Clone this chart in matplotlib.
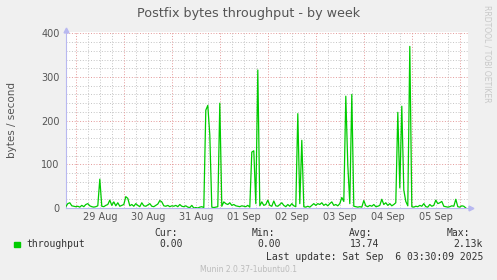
import pandas as pd
import matplotlib
matplotlib.use("Agg")
import matplotlib.pyplot as plt

# hourly samples, bytes / second
START = "2025-08-28 19:00"
aug28 = [3, 10, 12, 5, 4]
aug29 = [3, 4, 2, 6, 3, 8, 10, 5, 3, 2, 3, 5, 66, 4, 3, 6, 8, 18, 6, 14, 5, 12, 4, 6]
aug30 = [8, 26, 22, 5, 8, 4, 10, 6, 3, 12, 5, 4, 7, 10, 4, 3, 6, 9, 17, 14, 5, 4, 6, 3]
aug31 = [5, 4, 6, 3, 8, 4, 3, 5, 2, 1, 6, 0, 1, 0, 2, 3, 1, 224, 235, 167, 2, 1, 2, 3]
sep01 = [240, 4, 14, 10, 8, 12, 6, 8, 5, 4, 3, 5, 4, 3, 6, 2, 128, 131, 10, 316, 5, 14, 6, 8]
sep02 = [18, 6, 4, 16, 5, 4, 8, 12, 6, 3, 8, 4, 10, 5, 3, 216, 10, 155, 3, 2, 4, 2, 6, 10]
sep03 = [6, 10, 8, 12, 6, 9, 5, 10, 14, 6, 8, 5, 10, 24, 15, 256, 98, 10, 260, 4, 3, 2, 3, 2]
sep04 = [17, 5, 3, 6, 4, 8, 3, 4, 6, 20, 8, 12, 6, 10, 5, 8, 12, 219, 46, 233, 41, 15, 5, 370]
sep05 = [3, 2, 4, 3, 6, 4, 10, 3, 2, 8, 4, 6, 18, 10, 12, 15, 4, 3, 2, 3, 5, 4, 20, 3]
sep06 = [2, 5, 4, 0]
values = aug28 + aug29 + aug30 + aug31 + sep01 + sep02 + sep03 + sep04 + sep05 + sep06

day_labels = ["29 Aug", "30 Aug", "31 Aug", "01 Sep", "02 Sep", "03 Sep", "04 Sep", "05 Sep"]
stat_names = ["Cur:", "Min:", "Avg:", "Max:"]
stat_values = ["0.00", "0.00", "13.74", "2.13k"]
series_name = "throughput"
last_update = "Last update: Sat Sep  6 03:30:09 2025"

times = pd.date_range(START, periods=len(values), freq="h")
noons = pd.date_range("2025-08-29 12:00", periods=len(day_labels), freq="D")
x_left = pd.Timestamp("2025-08-28 19:06")
x_right = pd.Timestamp("2025-09-06 04:06")

W, H = 497, 280
BG = "#f0f0f0"
GREEN = "#00cc00"
AXIS = "#b8b8f0"

fig = plt.figure(figsize=(W / 100, H / 100), dpi=100, facecolor=BG)
ax = fig.add_axes([66 / W, 1 - 208 / H, 402 / W, 176 / H])
ax.set_facecolor("white")

ax.set_xlim(x_left, x_right)
ax.set_ylim(0, 403)

# grid: minor gray, major red
for t in pd.date_range("2025-08-29 00:00", x_right, freq="6h"):
    if t.hour != 0:
        ax.axvline(t, color="#c4c4c4", lw=0.7, ls=(0, (1, 1.8)), zorder=1)
for v in range(20, 401, 20):
    if v % 100:
        ax.axhline(v, color="#c4c4c4", lw=0.7, ls=(0, (1, 1.8)), zorder=1)
for t in pd.date_range("2025-08-29 00:00", x_right, freq="D"):
    ax.axvline(t, color="#e49a9a", lw=0.7, ls=(0, (1, 1.8)), zorder=2)
for v in range(100, 401, 100):
    ax.axhline(v, color="#e49a9a", lw=0.7, ls=(0, (1, 1.8)), zorder=2)

ax.plot(times, values, color=GREEN, lw=0.9, zorder=3)

# axes frame like rrdtool
for s in ["top", "right"]:
    ax.spines[s].set_visible(False)
for s in ["left", "bottom"]:
    ax.spines[s].set_color(AXIS)
    ax.spines[s].set_linewidth(0.8)
ax.plot([0], [1.012], marker="^", ms=3.5, color=AXIS, transform=ax.transAxes, clip_on=False)
ax.plot([1.008], [0], marker=">", ms=3.5, color=AXIS, transform=ax.transAxes, clip_on=False)

ax.set_yticks([0, 100, 200, 300, 400])
ax.set_xticks(noons)
ax.set_xticklabels(day_labels)
ax.tick_params(axis="both", length=0, labelsize=7, labelcolor="#555555")
ax.tick_params(axis="y", pad=4.5)
ax.tick_params(axis="x", pad=3)

fig.text(248.5 / W, 1 - 13 / H, "Postfix bytes throughput - by week",
         ha="center", va="center", fontsize=9.2, color="#555555")
fig.text(12 / W, 1 - 120 / H, "bytes / second", rotation=90,
         ha="center", va="center", fontsize=7.5, color="#555555")
fig.text(487 / W, 1 - 5 / H, "RRDTOOL / TOBI OETIKER", rotation=270,
         ha="center", va="top", fontsize=5.5, color="#c8c8c8")

# legend block
mono = dict(family="DejaVu Sans Mono", fontsize=7, color="#333333", va="center")
fig.patches.append(plt.Rectangle((14 / W, 1 - 247 / H), 5.5 / W, 5.5 / H,
                                 transform=fig.transFigure, color=GREEN))
fig.text(26.7 / W, 1 - 244.3 / H, series_name, ha="left", **mono)
name_x = [154, 251.7, 349, 446.7]
value_right = [183, 281, 379, 483]
for nx, vr, n, v in zip(name_x, value_right, stat_names, stat_values):
    fig.text(nx / W, 1 - 233 / H, n, ha="left", **mono)
    fig.text(vr / W, 1 - 244.3 / H, v, ha="right", **mono)
fig.text(483 / W, 1 - 256.5 / H, last_update, ha="right", **mono)
fig.text(248 / W, 1 - 269 / H, "Munin 2.0.37-1ubuntu0.1",
         ha="center", va="center", fontsize=5.5, color="#bbbbbb")

fig.savefig("out.png", dpi=100, facecolor=BG)
